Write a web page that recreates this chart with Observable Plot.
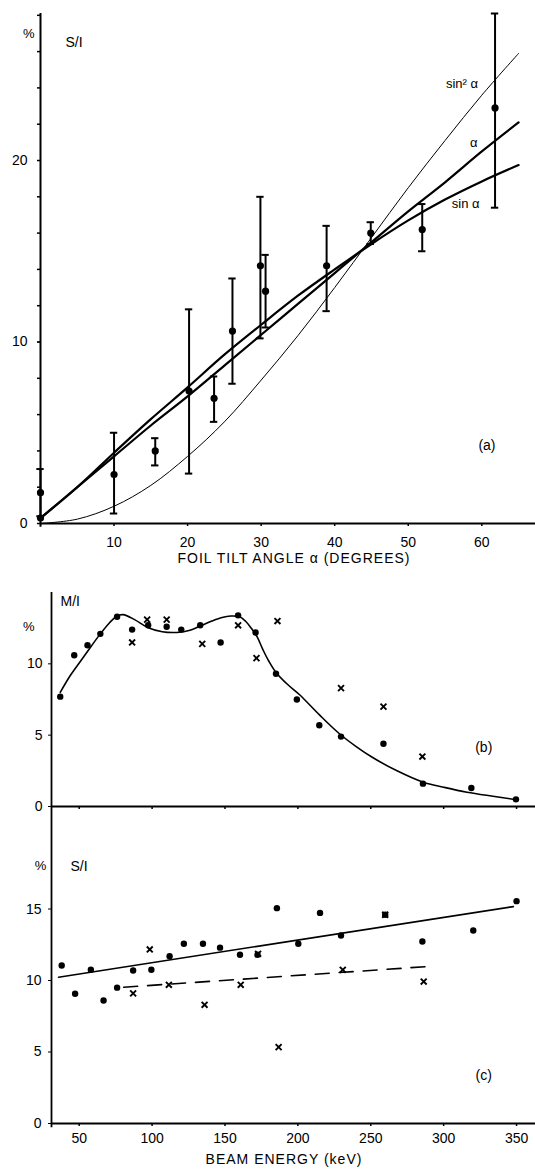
<!DOCTYPE html>
<html><head><meta charset="utf-8">
<script src="https://cdn.jsdelivr.net/npm/d3@7"></script>
<script src="https://cdn.jsdelivr.net/npm/@observablehq/plot@0.6"></script>
<style>
html,body{margin:0;padding:0;background:#fff;}
#wrap{position:relative;width:535px;height:1172px;overflow:hidden;background:#fff;}
#wrap svg{position:absolute;left:0;}
</style></head><body><div id="wrap"></div>
<script>
// ---------- Panel (a): S/I vs foil tilt angle ----------
const tiltAngle   = [0, 0, 10, 15.6, 20.2, 23.6, 26.1, 29.9, 30.6, 38.9, 44.9, 51.9, 61.8];
const tiltSI      = [1.7, 0.3, 2.7, 4.0, 7.3, 6.9, 10.6, 14.2, 12.8, 14.2, 16.0, 16.2, 22.9];
const tiltErrLow  = [0.4, null, 0.55, 3.2, 2.75, 5.6, 7.7, 10.2, 10.8, 11.7, 15.4, 15.0, 17.4];
const tiltErrHigh = [3.0, null, 5.0, 4.7, 11.8, 8.1, 13.5, 18.0, 14.8, 16.4, 16.6, 17.6, 28.1];
const curveAngle  = [0, 5, 10, 15, 20, 25, 30, 35, 40, 45, 50, 55, 60, 65];
const curveAlpha  = [0.3, 2.0, 3.7, 5.4, 7.0, 8.7, 10.4, 12.1, 13.8, 15.5, 17.2, 18.8, 20.5, 22.1];
const curveSinA   = [0.3, 2.0, 3.9, 5.75, 7.5, 9.3, 10.95, 12.55, 14.0, 15.4, 16.7, 17.85, 18.85, 19.75];
const curveSin2A  = [0, 0.24, 0.95, 2.1, 3.7, 5.6, 7.9, 10.35, 13.0, 15.75, 18.5, 21.1, 23.6, 25.9];
const tiltYTicks  = [0, 10, 20];
const tiltXTicks  = [10, 20, 30, 40, 50, 60];

// ---------- Panel (b): M/I vs beam energy ----------
const energyDotB  = [37, 46.6, 55.7, 64.5, 76, 86.3, 97.3, 110, 120, 133, 147, 159, 171, 185, 199.3, 214.7, 229.6, 258.7, 285.8, 319, 349.6];
const miDot       = [7.7, 10.6, 11.3, 12.1, 13.3, 12.4, 12.7, 12.6, 12.4, 12.7, 11.5, 13.4, 12.2, 9.3, 7.5, 5.7, 4.9, 4.4, 1.6, 1.3, 0.5];
const energyCrossB= [86.3, 96.6, 110, 134.4, 159, 171.6, 186, 229.6, 258.7, 285.4];
const miCross     = [11.5, 13.1, 13.1, 11.4, 12.7, 10.4, 13.0, 8.3, 7.0, 3.5];
const miCurveE    = [37, 44, 51, 58, 64.5, 71, 76, 80, 88, 97, 107, 117, 126, 133, 141, 148, 154, 160, 164, 168, 172, 176, 180, 185, 193, 201, 215, 228.5, 240, 251, 268, 286, 300, 316, 335, 350];
const miCurveV    = [8.0, 9.2, 10.2, 11.2, 12.1, 12.9, 13.35, 13.45, 13.1, 12.55, 12.25, 12.2, 12.35, 12.65, 13.0, 13.25, 13.35, 13.3, 13.0, 12.5, 11.9, 11.0, 10.2, 9.4, 8.55, 7.85, 6.4, 5.1, 4.2, 3.45, 2.5, 1.7, 1.35, 1.0, 0.7, 0.47];
const miYTicks    = [0, 5, 10];

// ---------- Panel (c): S/I vs beam energy ----------
const energyDotC  = [38, 47.2, 58, 66.7, 76, 87, 99.5, 112, 121.8, 134.9, 146.6, 160.3, 172.3, 185.6, 200.3, 215.2, 229.6, 259.9, 285.4, 320.3, 350];
const siDot       = [11.05, 9.07, 10.75, 8.6, 9.5, 10.7, 10.75, 11.7, 12.57, 12.57, 12.3, 11.8, 11.8, 15.06, 12.57, 14.73, 13.15, 14.6, 12.73, 13.5, 15.55];
const energyCrossC= [87, 98.4, 111.5, 136, 160.8, 172.7, 186.8, 230.8, 259.9, 286.3];
const siCross     = [9.1, 12.17, 9.7, 8.3, 9.7, 11.87, 5.34, 10.75, 14.6, 9.93];
const fitSolidE   = [35.8, 347.8];
const fitSolidV   = [10.23, 15.17];
const fitDashE    = [80.5, 289.3];
const fitDashV    = [9.53, 10.98];
const siYTicks    = [0, 5, 10, 15];
const energyTicks = [50, 100, 150, 200, 250, 300, 350];

const FONT = '"Liberation Sans", Arial, sans-serif';
const wrap = document.getElementById("wrap");
function place(svg, top) { svg.style.top = top + "px"; wrap.appendChild(svg); }
function spaceOut(svg, prefix) {
  d3.select(svg).selectAll("text")
    .filter(function () { return this.textContent.startsWith(prefix); })
    .style("letter-spacing", "1px");
}

// ---- (a)
const bars = tiltAngle.map((a, i) => ({a, lo: tiltErrLow[i], hi: tiltErrHigh[i]})).filter(d => d.lo != null);
const pts = tiltAngle.map((a, i) => ({a, v: tiltSI[i]}));
const curves = [];
curveAngle.forEach((a, i) => {
  curves.push({a, v: curveAlpha[i], s: "alpha"});
  curves.push({a, v: curveSinA[i], s: "sin"});
});
const curve2 = curveAngle.map((a, i) => ({a, v: curveSin2A[i]}));

const plotA = Plot.plot({
  width: 535, height: 575,
  marginLeft: 40, marginRight: 0, marginTop: 13, marginBottom: 52,
  style: {fontFamily: FONT, fontSize: "14px", background: "transparent", overflow: "visible"},
  x: {domain: [0, 67.3]},
  y: {domain: [0, 28.1]},
  marks: [
    Plot.ruleY([0], {strokeWidth: 2}),
    Plot.ruleX([0], {y1: -0.2, y2: 28.1, strokeWidth: 2}),
    Plot.axisY(d3.range(0, 28.1, 2), {tickSize: 3, tickFormat: () => "", label: null, strokeWidth: 1.5}),
    Plot.axisY(tiltYTicks, {tickSize: 3, tickPadding: 10, label: null, fontSize: 14}),
    Plot.axisX(tiltXTicks, {tickSize: 3, tickPadding: 11, label: null, fontSize: 14, strokeWidth: 1.5}),
    Plot.line(curve2, {x: "a", y: "v", strokeWidth: 1, curve: "catmull-rom"}),
    Plot.line(curves, {x: "a", y: "v", z: "s", strokeWidth: 2.2, curve: "catmull-rom"}),
    Plot.ruleX(bars, {x: "a", y1: "lo", y2: "hi", strokeWidth: 2}),
    Plot.ruleY(bars, {y: "hi", x1: d => d.a - 0.5, x2: d => d.a + 0.5, strokeWidth: 2}),
    Plot.ruleY(bars, {y: "lo", x1: d => d.a - 0.5, x2: d => d.a + 0.5, strokeWidth: 2}),
    Plot.dot(pts, {x: "a", y: "v", r: 3.6, fill: "black"}),
    Plot.text(["%"], {x: -1.6, y: 27.0, fontSize: 13}),
    Plot.text(["S/I"], {x: 3.4, y: 26.5, textAnchor: "start", fontSize: 14}),
    Plot.text(["sin² α"], {x: 57.3, y: 24.25, fontSize: 13}),
    Plot.text(["α"], {x: 58.9, y: 20.95, fontSize: 13}),
    Plot.text(["sin α"], {x: 57.8, y: 17.6, fontSize: 13}),
    Plot.text(["(a)"], {x: 60.7, y: 4.29, fontSize: 14}),
    Plot.text(["FOIL TILT ANGLE α (DEGREES)"], {frameAnchor: "bottom", dx: 6, dy: 39, fontSize: 14})
  ]
});
spaceOut(plotA, "FOIL");
place(plotA, 0);

// ---- (b)
const dotsB = energyDotB.map((e, i) => ({e, v: miDot[i]}));
const crossB = energyCrossB.map((e, i) => ({e, v: miCross[i]}));
const curveB = miCurveE.map((e, i) => ({e, v: miCurveV[i]}));
const plotB = Plot.plot({
  width: 535, height: 227,
  marginLeft: 51, marginRight: 0, marginTop: 7, marginBottom: 6,
  style: {fontFamily: FONT, fontSize: "14px", background: "transparent", overflow: "visible"},
  x: {domain: [31, 363]},
  y: {domain: [0, 15]},
  marks: [
    Plot.ruleY([0], {strokeWidth: 1.8}),
    Plot.ruleX([31], {y1: 0, y2: 15, strokeWidth: 1.8}),
    Plot.axisY(miYTicks, {tickSize: 3, tickPadding: 6, label: null, fontSize: 14}),
    Plot.axisX(energyTicks, {tickSize: 3, tickFormat: () => "", label: null, strokeWidth: 1.5}),
    Plot.line(curveB, {x: "e", y: "v", strokeWidth: 1.6, curve: "catmull-rom"}),
    Plot.dot(dotsB, {x: "e", y: "v", r: 3.2, fill: "black"}),
    Plot.dot(crossB, {x: "e", y: "v", r: 2.8, symbol: "times", stroke: "black", strokeWidth: 1.9}),
    Plot.text(["%"], {x: 15.4, y: 12.6, fontSize: 13}),
    Plot.text(["M/I"], {x: 37.2, y: 14.4, textAnchor: "start", fontSize: 14}),
    Plot.text(["(b)"], {x: 327.5, y: 4.15, fontSize: 14})
  ]
});
place(plotB, 585);

// ---- (c)
const dotsC = energyDotC.map((e, i) => ({e, v: siDot[i]}));
const crossC = energyCrossC.map((e, i) => ({e, v: siCross[i]}));
const solid = fitSolidE.map((e, i) => ({e, v: fitSolidV[i]}));
const dashed = fitDashE.map((e, i) => ({e, v: fitDashV[i]}));
const plotC = Plot.plot({
  width: 535, height: 366,
  marginLeft: 51, marginRight: 0, marginTop: 0, marginBottom: 49,
  style: {fontFamily: FONT, fontSize: "14px", background: "transparent", overflow: "visible"},
  x: {domain: [31, 363]},
  y: {domain: [0, 22.17]},
  marks: [
    Plot.ruleY([0], {strokeWidth: 1.8}),
    Plot.ruleX([31], {y1: -0.3, y2: 22.17, strokeWidth: 1.8}),
    Plot.axisY(siYTicks, {tickSize: 3, tickPadding: 7, label: null, fontSize: 14}),
    Plot.axisX(energyTicks, {tickSize: 3, tickPadding: 7, label: null, fontSize: 14, strokeWidth: 1.5}),
    Plot.line(solid, {x: "e", y: "v", strokeWidth: 1.6}),
    Plot.line(dashed, {x: "e", y: "v", strokeWidth: 1.6, strokeDasharray: "14,10"}),
    Plot.dot(dotsC, {x: "e", y: "v", r: 3.2, fill: "black"}),
    Plot.dot(crossC, {x: "e", y: "v", r: 2.8, symbol: "times", stroke: "black", strokeWidth: 1.9}),
    Plot.text(["%"], {x: 23.4, y: 18.0, fontSize: 13}),
    Plot.text(["S/I"], {x: 44, y: 18.0, textAnchor: "start", fontSize: 14}),
    Plot.text(["(c)"], {x: 327.5, y: 3.36, fontSize: 14}),
    Plot.text(["BEAM ENERGY (keV)"], {frameAnchor: "bottom", dx: -9.5, dy: 40, fontSize: 14})
  ]
});
spaceOut(plotC, "BEAM");
place(plotC, 806);
</script></body></html>
